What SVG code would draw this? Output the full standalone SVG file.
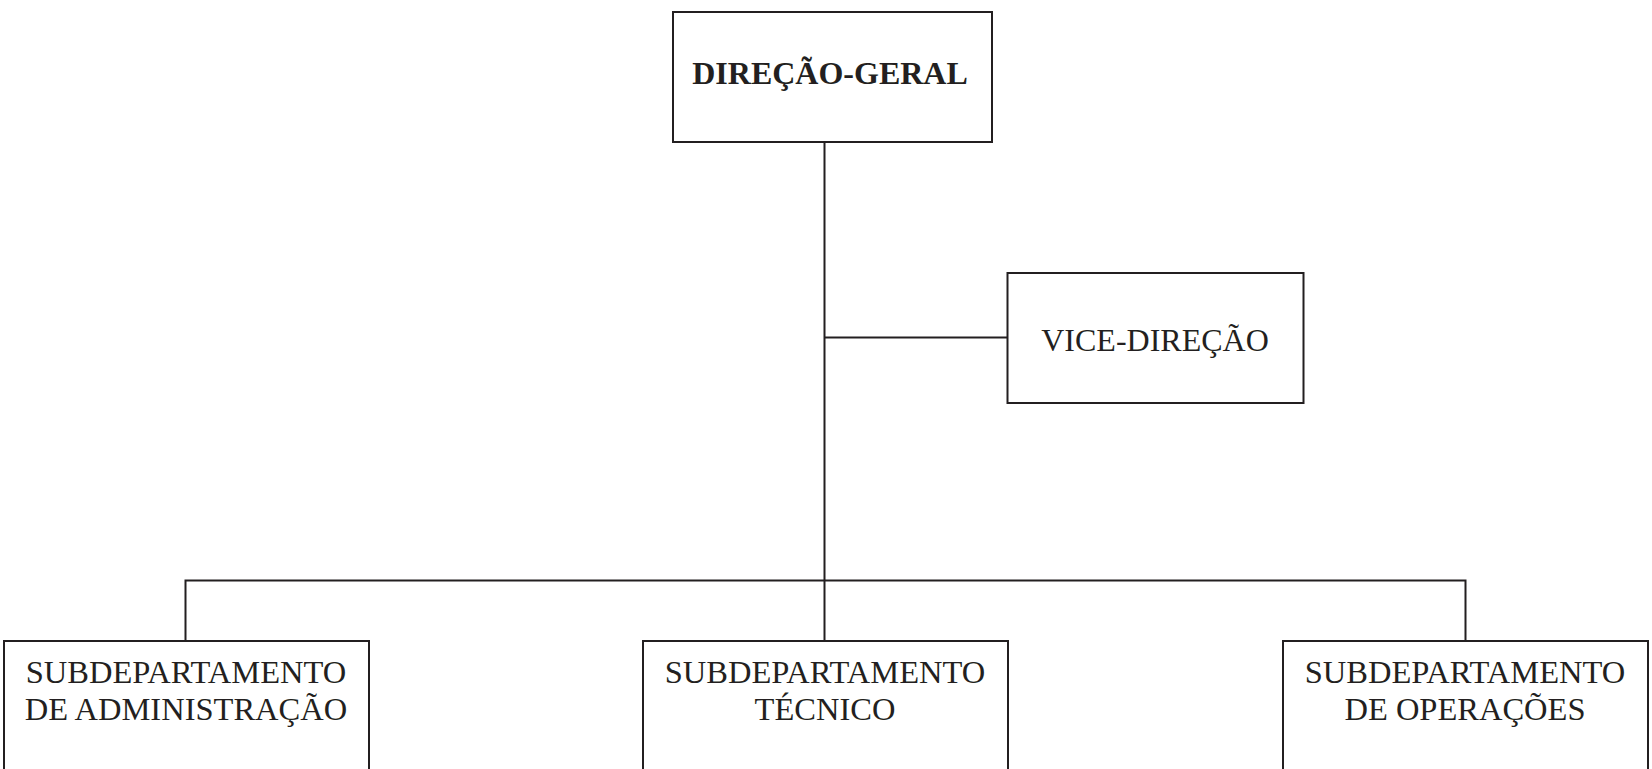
<svg xmlns="http://www.w3.org/2000/svg" width="1652" height="769" viewBox="0 0 1652 769">
<style>
.box{fill:#fff;stroke:#231f20;stroke-width:2}
.conn{fill:none;stroke:#231f20;stroke-width:2}
.t{font-family:"Liberation Serif","Times New Roman",serif;font-size:32px;fill:#231f20;text-anchor:middle}
.b{font-weight:bold;font-size:32px}
.s{font-size:32.5px}
</style>
<rect width="1652" height="769" fill="#fff"/>
<g id="connectors">
<path class="conn" d="M824.5 142 V580"/>
<path class="conn" d="M824.5 337.5 H1007"/>
<path class="conn" d="M185.5 641 V580.5 H1465.5 V641"/>
<path class="conn" d="M824.5 580 V641"/>
</g>
<g id="direcao-geral">
<rect class="box" x="673" y="12" width="319" height="130"/>
<text class="t b" x="830" y="84">DIREÇÃO-GERAL</text>
</g>
<g id="vice-direcao">
<rect class="box" x="1007.5" y="273" width="296" height="130"/>
<text class="t" x="1155" y="351">VICE-DIREÇÃO</text>
</g>
<g id="sub-administracao">
<rect class="box" x="4" y="641" width="365" height="160"/>
<text class="t s" x="186" y="683">SUBDEPARTAMENTO</text>
<text class="t s" x="186" y="719.5">DE ADMINISTRAÇÃO</text>
</g>
<g id="sub-tecnico">
<rect class="box" x="643" y="641" width="365" height="160"/>
<text class="t s" x="825" y="683">SUBDEPARTAMENTO</text>
<text class="t s" x="825" y="719.5">TÉCNICO</text>
</g>
<g id="sub-operacoes">
<rect class="box" x="1283" y="641" width="365" height="160"/>
<text class="t s" x="1465" y="683">SUBDEPARTAMENTO</text>
<text class="t s" x="1465" y="719.5">DE OPERAÇÕES</text>
</g>
</svg>
